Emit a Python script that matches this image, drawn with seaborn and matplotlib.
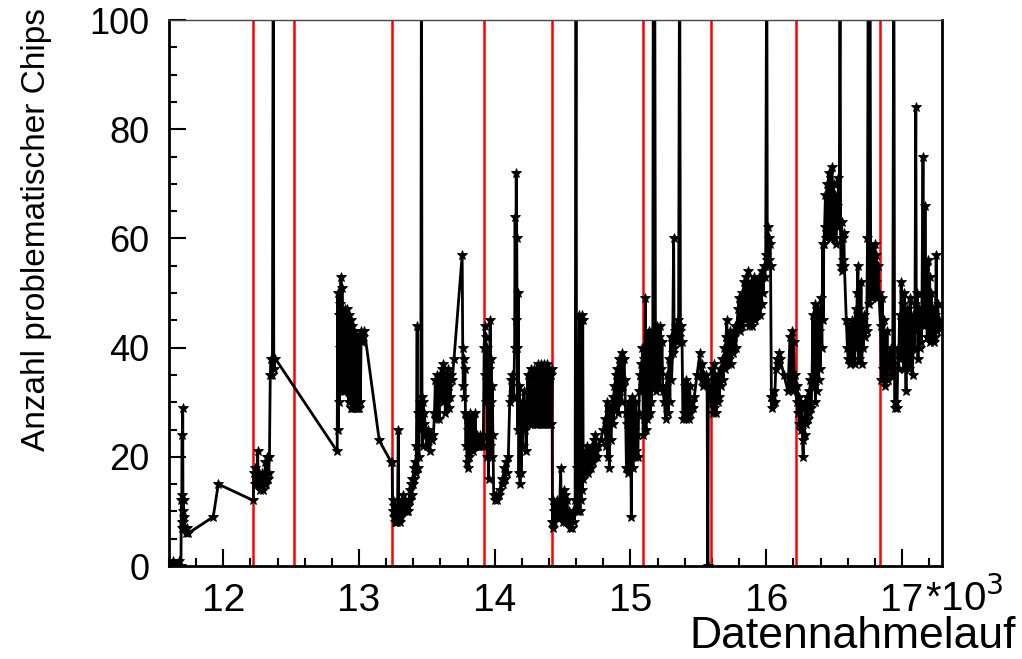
import matplotlib
matplotlib.use("Agg")
import matplotlib.pyplot as plt
from matplotlib.ticker import MultipleLocator, FixedLocator
import pandas as pd
import seaborn as sns

# run number / number of problematic chips, one list per stretch
# values of 120 are the spikes that leave the frame at the top
seg_a = [(11602, 1), (11610, 0), (11620, 0), (11630, 1), (11640, 0), (11650, 0), (11660, 0),
         (11670, 1), (11680, 0), (11688, 0), (11691, 12), (11693, 8), (11695, 13), (11697, 24),
         (11699, 7), (11701, 29), (11703, 10), (11705, 8), (11707, 12), (11709, 7), (11712, 9),
         (11716, 7), (11722, 6), (11730, 7), (11742, 6), (11926, 9), (11963, 15), (12221, 12)]

seg_b = [(12225, 17), (12230, 15), (12236, 18), (12242, 15), (12248, 16), (12253, 21), (12258, 15),
         (12263, 17), (12268, 14), (12274, 16), (12280, 15), (12286, 17), (12292, 14), (12298, 16),
         (12304, 15), (12310, 19), (12316, 15), (12322, 20), (12328, 16), (12334, 17), (12340, 20),
         (12346, 35), (12352, 38), (12356, 35), (12362, 38), (12368, 120), (12372, 36), (12383, 38),
         (12839, 21), (12843, 50), (12847, 25), (12851, 46), (12855, 30), (12859, 48), (12863, 40),
         (12867, 53), (12871, 38), (12875, 51), (12879, 32), (12883, 44), (12887, 46), (12891, 35),
         (12895, 47), (12899, 32), (12903, 46), (12907, 44), (12911, 33), (12915, 47), (12919, 45),
         (12923, 30), (12927, 46), (12931, 44), (12935, 31), (12939, 45), (12943, 29), (12947, 44),
         (12951, 29), (12955, 43), (12959, 29), (12963, 43), (12967, 29), (12971, 42), (12975, 29),
         (12979, 41), (12983, 29), (12987, 42), (12991, 29), (12995, 42), (13000, 29), (13005, 42),
         (13010, 30), (13016, 43), (13022, 41), (13030, 42), (13040, 43), (13149, 23), (13237, 19)]

seg_c = [(13244, 19), (13247, 10), (13250, 12), (13254, 9), (13258, 11), (13262, 8), (13266, 10),
         (13270, 9), (13274, 8), (13278, 10), (13283, 8), (13289, 25), (13293, 9), (13297, 10),
         (13302, 8), (13307, 9), (13313, 12), (13318, 10), (13323, 13), (13328, 11), (13333, 10),
         (13338, 12), (13343, 10), (13348, 11), (13353, 10), (13358, 11), (13363, 10), (13368, 12),
         (13373, 14), (13378, 12), (13383, 15), (13388, 13), (13393, 16), (13398, 15), (13403, 18),
         (13408, 16), (13413, 19), (13418, 17), (13423, 22), (13428, 44), (13432, 18), (13437, 28),
         (13441, 20), (13446, 30), (13450, 25), (13455, 28), (13460, 120), (13464, 31), (13468, 22),
         (13472, 30), (13477, 26), (13482, 28), (13490, 24), (13500, 22), (13510, 25), (13520, 21),
         (13530, 24), (13540, 23), (13548, 24), (13556, 28), (13562, 34), (13567, 27), (13572, 35),
         (13577, 28), (13583, 33), (13590, 27), (13597, 35), (13604, 31), (13610, 36), (13615, 30),
         (13620, 37), (13625, 32), (13630, 35), (13636, 28), (13642, 34), (13648, 30), (13654, 36),
         (13660, 29), (13666, 33), (13672, 31), (13680, 35), (13686, 34), (13700, 38), (13760, 57),
         (13764, 40), (13768, 33), (13772, 38), (13776, 31), (13780, 36), (13784, 28), (13788, 22),
         (13792, 27), (13796, 19), (13800, 25), (13804, 18), (13808, 26), (13812, 20), (13816, 24),
         (13820, 28), (13826, 22), (13832, 27), (13838, 21), (13844, 24), (13850, 22), (13856, 28),
         (13862, 22), (13868, 24), (13874, 22), (13880, 23), (13886, 22), (13892, 24), (13898, 22),
         (13904, 23), (13910, 22), (13916, 24)]

seg_d = [(13922, 40), (13926, 44), (13930, 35), (13934, 42), (13938, 30), (13942, 40), (13946, 20),
         (13950, 38), (13954, 16), (13958, 36), (13962, 22), (13966, 45), (13970, 30), (13974, 38),
         (13978, 20), (13982, 33), (13986, 24), (13992, 13), (14000, 12), (14010, 13), (14020, 12),
         (14030, 13), (14040, 14), (14050, 16), (14060, 15), (14068, 18), (14076, 16), (14084, 19),
         (14090, 17), (14100, 20), (14110, 30), (14118, 34), (14124, 31), (14130, 35), (14140, 31),
         (14146, 40), (14150, 64), (14154, 45), (14158, 72), (14162, 60), (14166, 40), (14170, 25),
         (14174, 50), (14178, 17), (14182, 33), (14186, 15), (14190, 28), (14194, 17), (14200, 30),
         (14206, 22), (14210, 28), (14215, 32), (14220, 25), (14226, 29), (14232, 21), (14238, 30),
         (14244, 35), (14250, 27), (14256, 32), (14262, 26), (14268, 36), (14274, 26), (14280, 33),
         (14286, 27), (14292, 36), (14298, 26), (14304, 34), (14310, 26), (14316, 37), (14322, 26),
         (14328, 35), (14334, 26), (14340, 37), (14346, 26), (14352, 34), (14358, 26), (14364, 37),
         (14370, 26), (14376, 36), (14382, 26), (14388, 37), (14394, 26), (14400, 36), (14406, 26),
         (14412, 35), (14418, 26), (14422, 36)]

seg_e = [(14425, 8), (14428, 12), (14432, 7), (14436, 10), (14440, 8), (14444, 11), (14448, 9),
         (14455, 10), (14462, 12), (14470, 9), (14478, 11), (14486, 18), (14490, 9), (14496, 12),
         (14502, 8), (14508, 14), (14514, 9), (14520, 13), (14526, 8), (14532, 12), (14540, 8),
         (14548, 10), (14556, 7), (14564, 9), (14572, 7), (14580, 10), (14586, 8), (14592, 12),
         (14599, 120), (14603, 10), (14607, 18), (14612, 10), (14617, 16), (14624, 46), (14628, 10),
         (14632, 45), (14636, 12), (14640, 46), (14644, 14), (14648, 45), (14652, 16), (14658, 19),
         (14664, 17), (14670, 21), (14676, 18), (14682, 22), (14688, 17), (14694, 20), (14700, 19),
         (14706, 21), (14712, 18), (14718, 22), (14724, 19), (14730, 23), (14736, 20), (14742, 24),
         (14748, 21), (14754, 20), (14760, 22), (14780, 23), (14800, 25), (14813, 27), (14820, 22),
         (14826, 30), (14832, 20), (14838, 28), (14844, 18), (14850, 29), (14856, 23), (14862, 27),
         (14868, 31), (14874, 26), (14880, 33), (14886, 29), (14892, 35), (14898, 30), (14904, 36),
         (14910, 28), (14916, 38), (14922, 32), (14928, 37), (14934, 30), (14940, 39), (14946, 33),
         (14952, 38), (14958, 34), (14964, 28), (14970, 18), (14976, 26), (14982, 17), (14988, 30),
         (14994, 19), (15000, 27), (15006, 9), (15012, 31), (15018, 18), (15024, 25), (15030, 20),
         (15036, 30), (15042, 21), (15048, 24), (15054, 20), (15060, 28), (15066, 32), (15072, 35),
         (15078, 37), (15084, 34), (15088, 40), (15092, 33)]

seg_f = [(15094, 24), (15098, 38), (15102, 27), (15110, 49), (15114, 25), (15118, 36), (15122, 27),
         (15126, 40), (15130, 28), (15134, 43), (15138, 30), (15142, 38), (15146, 28), (15150, 41),
         (15154, 30), (15158, 43), (15164, 35), (15168, 120), (15172, 33), (15178, 120), (15184, 38),
         (15190, 32), (15196, 44), (15202, 35), (15208, 42), (15214, 33), (15220, 44), (15226, 36),
         (15232, 41), (15238, 32), (15250, 30), (15258, 27), (15264, 33), (15272, 35), (15278, 28),
         (15284, 38), (15290, 30), (15296, 42), (15302, 34), (15310, 39), (15318, 60), (15322, 40),
         (15330, 43), (15336, 44), (15342, 41), (15348, 45), (15354, 42), (15362, 120), (15368, 43),
         (15374, 44), (15380, 41), (15386, 27), (15394, 28), (15400, 33), (15406, 27), (15412, 34),
         (15418, 28), (15424, 30), (15430, 27), (15436, 33), (15442, 28), (15450, 30), (15458, 29),
         (15470, 31), (15490, 35), (15512, 39), (15518, 35), (15524, 34), (15530, 37), (15536, 33),
         (15542, 35), (15548, 34), (15556, 35), (15564, 34), (15570, 0), (15574, 33)]

seg_g = [(15598, 30), (15602, 36), (15606, 28), (15612, 37), (15618, 29), (15624, 35), (15630, 28),
         (15636, 33), (15642, 30), (15648, 35), (15654, 31), (15660, 36), (15668, 33), (15676, 38),
         (15684, 34), (15692, 40), (15698, 36), (15704, 42), (15710, 45), (15716, 37), (15722, 41),
         (15728, 38), (15734, 43), (15740, 37), (15746, 40), (15752, 39), (15760, 42), (15768, 44),
         (15776, 40), (15784, 44), (15792, 47), (15800, 49), (15806, 43), (15812, 48), (15818, 44),
         (15824, 50), (15830, 46), (15836, 52), (15842, 45), (15848, 53), (15856, 46), (15864, 54),
         (15870, 44), (15876, 51), (15882, 45), (15888, 52), (15894, 44), (15900, 50), (15906, 46),
         (15912, 53), (15918, 45), (15924, 51), (15930, 46), (15936, 52), (15942, 47), (15948, 53),
         (15954, 46), (15960, 52), (15966, 48), (15972, 54), (15978, 50), (15984, 55), (15990, 53),
         (15996, 57), (16004, 120), (16008, 56), (16012, 62), (16016, 55), (16020, 60), (16024, 56),
         (16028, 59), (16032, 55), (16038, 31), (16042, 29), (16046, 31), (16050, 30), (16056, 32),
         (16062, 30), (16070, 36), (16078, 38), (16086, 37), (16094, 39), (16102, 38), (16130, 35),
         (16160, 32), (16175, 42), (16182, 33), (16190, 43), (16196, 32), (16202, 41), (16208, 33),
         (16214, 35)]

seg_h = [(16224, 30), (16228, 33), (16232, 28), (16238, 31), (16244, 26), (16250, 30), (16256, 25),
         (16262, 29), (16268, 23), (16272, 20), (16276, 27), (16282, 24), (16288, 30), (16294, 26),
         (16300, 31), (16306, 27), (16312, 32), (16318, 28), (16324, 34), (16330, 29), (16338, 35),
         (16344, 46), (16350, 33), (16356, 48), (16362, 30), (16368, 45), (16374, 32), (16380, 47),
         (16386, 34), (16392, 43), (16398, 36), (16404, 49), (16410, 40), (16416, 59), (16420, 45),
         (16424, 59), (16430, 62), (16436, 68), (16442, 60), (16448, 70), (16454, 61), (16460, 72),
         (16466, 62), (16472, 69), (16478, 60), (16484, 73), (16490, 63), (16496, 70), (16502, 60),
         (16508, 68), (16514, 59), (16520, 66), (16526, 62), (16532, 71), (16538, 63), (16544, 120),
         (16548, 60), (16552, 55), (16556, 63), (16560, 54), (16564, 60), (16568, 56), (16572, 61),
         (16576, 55), (16590, 45), (16598, 40), (16604, 38), (16610, 44), (16616, 37), (16622, 42),
         (16628, 39), (16634, 45), (16640, 38), (16646, 43), (16652, 37), (16658, 47), (16664, 40),
         (16670, 50), (16676, 55), (16680, 38), (16686, 47), (16692, 40), (16698, 52), (16704, 37),
         (16710, 45), (16716, 40), (16722, 46), (16728, 42), (16734, 44), (16740, 43), (16746, 60),
         (16752, 120), (16758, 48), (16764, 120), (16770, 50), (16776, 58), (16782, 49), (16788, 56),
         (16794, 50), (16800, 59), (16806, 52), (16812, 57), (16818, 49), (16824, 55), (16830, 50)]

seg_i = [(16842, 44), (16848, 34), (16854, 49), (16860, 36), (16866, 45), (16872, 33), (16878, 40),
         (16884, 35), (16890, 43), (16896, 34), (16902, 38), (16908, 36), (16916, 40), (16924, 35),
         (16932, 37), (16940, 120), (16946, 30), (16952, 29), (16958, 30), (16964, 29), (16970, 40),
         (16976, 36), (16982, 46), (16988, 38), (16994, 52), (17000, 40), (17006, 48), (17012, 36),
         (17018, 50), (17024, 42), (17030, 32), (17036, 47), (17042, 38), (17048, 45), (17054, 36),
         (17060, 49), (17066, 39), (17072, 44), (17078, 35), (17084, 46), (17090, 40), (17096, 48),
         (17102, 84), (17106, 43), (17112, 50), (17118, 38), (17124, 47), (17130, 40), (17136, 45),
         (17142, 41), (17148, 50), (17155, 75), (17160, 47), (17166, 44), (17170, 66), (17174, 48),
         (17180, 55), (17186, 42), (17192, 56), (17198, 44), (17204, 53), (17210, 41), (17216, 50),
         (17222, 43), (17228, 47), (17234, 41), (17240, 46), (17246, 42), (17252, 57), (17258, 43),
         (17264, 48), (17270, 44), (17276, 45), (17280, 44)]

# runs where a new period starts (red lines)
period_starts = [12221, 12522, 13244, 13922, 14423, 15093, 15594, 16220, 16838]

x_ticks = [12000, 13000, 14000, 15000, 16000, 17000]
x_ticklabels = ["12", "13", "14", "15", "16", "17"]
y_ticks = [0, 20, 40, 60, 80, 100]

segs = seg_a + seg_b + seg_c + seg_d + seg_e + seg_f + seg_g + seg_h + seg_i
df = pd.DataFrame(segs, columns=["run", "chips"])

sns.set_style("ticks")
plt.rcParams['font.family'] = ['Liberation Sans', 'DejaVu Sans']
plt.rcParams['text.color'] = 'black'
plt.rcParams['xtick.labelcolor'] = 'black'
plt.rcParams['ytick.labelcolor'] = 'black'

fig = plt.figure(figsize=(10.22, 6.59), dpi=100)
ax = fig.add_axes([169 / 1022, 1 - 566 / 659, (942 - 169) / 1022, (566 - 20) / 659])

for r in period_starts:
    ax.axvline(r, color='red', lw=1.8, zorder=1)

sns.lineplot(data=df, x='run', y='chips', color='black', lw=2, marker='*',
             markersize=7, markeredgecolor='black', markeredgewidth=0.6,
             sort=False, estimator=None, ax=ax, zorder=2)

ax.set_xlim(11600, 17295)
ax.set_ylim(0, 100)
ax.xaxis.set_major_locator(FixedLocator(x_ticks))
ax.set_xticklabels(x_ticklabels)
ax.xaxis.set_minor_locator(MultipleLocator(200))
ax.set_yticks(y_ticks)
ax.yaxis.set_minor_locator(MultipleLocator(5))
ax.tick_params(axis='both', which='both', direction='in', top=False, right=False,
               color='black', labelcolor='black')
ax.tick_params(axis='both', which='major', length=12, width=1.5)
ax.tick_params(axis='both', which='minor', length=6, width=1.5)
ax.tick_params(axis='x', which='major', labelsize=28, pad=12)
ax.tick_params(axis='y', which='major', labelsize=26, pad=14)
ax.set_xlabel("")
ax.set_ylabel("")

for side in ['left', 'bottom', 'right']:
    ax.spines[side].set_linewidth(2)
    ax.spines[side].set_color('black')
ax.spines['top'].set_linewidth(1)
ax.spines['top'].set_color('#444444')

fig.text(925 / 1022, 1 - 611 / 659, r"*10$^{3}$", fontsize=29, ha='left', va='baseline')
fig.text(1016 / 1022, 1 - 648 / 659, "Datennahmelauf", fontsize=32, ha='right', va='baseline')
fig.text(52 / 1022, 1 - 8 / 659, "Anzahl problematischer Chips", fontsize=24,
         rotation=90, rotation_mode='anchor', ha='right', va='bottom')

fig.savefig("out.png", dpi=100)
